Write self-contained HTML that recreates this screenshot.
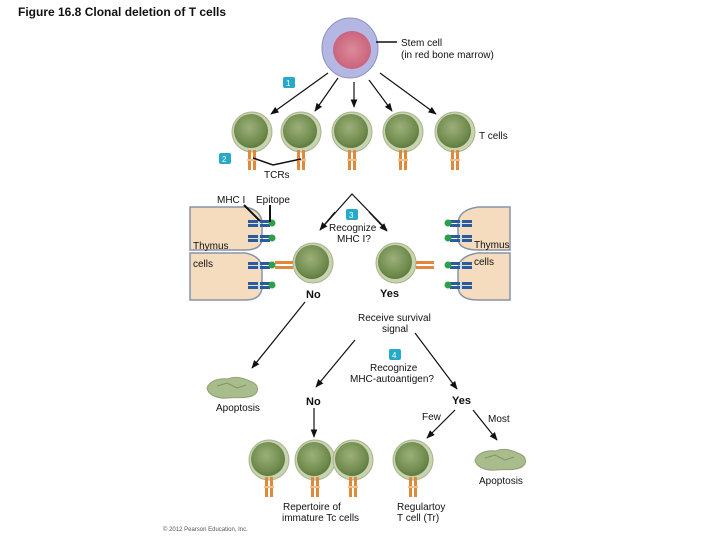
<!DOCTYPE html>
<html><head><meta charset="utf-8"><style>
html,body{margin:0;padding:0;background:#fff}
svg{display:block}
text{font-family:"Liberation Sans",sans-serif;font-size:10px;fill:#111}
</style></head><body>
<svg width="720" height="540" viewBox="0 0 720 540" xmlns="http://www.w3.org/2000/svg">
<defs>
<radialGradient id="cg" cx="0.45" cy="0.4" r="0.6">
<stop offset="0" stop-color="#9cb07a"/><stop offset="0.8" stop-color="#6f8a4c"/><stop offset="1" stop-color="#5f7a40"/></radialGradient>
<radialGradient id="sg" cx="0.5" cy="0.5" r="0.55">
<stop offset="0" stop-color="#dc8a98"/><stop offset="1" stop-color="#c8607a"/></radialGradient>
<marker id="ar" viewBox="0 0 10 10" refX="9" refY="5" markerWidth="7" markerHeight="7" orient="auto"><path d="M0,1 L10,5 L0,9 z" fill="#111"/></marker>
<g id="cell"><circle r="20" fill="#c8d4b0" stroke="#a6b48c" stroke-width="1"/><circle cx="-1" cy="-1" r="17" fill="url(#cg)"/></g>
<g id="tcr"><rect x="-4" y="0" width="3" height="20" fill="#e0893a"/><rect x="1" y="0" width="3" height="20" fill="#e0893a"/><rect x="-5" y="9" width="10" height="2" fill="#f3c08a"/></g>
<g id="mhc"><rect x="0" y="-3" width="22" height="3" fill="#2a5b9c"/><rect x="0" y="1" width="22" height="3" fill="#2a5b9c"/><rect x="10" y="-3" width="2" height="7" fill="#cde"/><circle cx="24" cy="0" r="3.5" fill="#2fa04a"/></g>
<g id="apo"><path d="M-25,0 C-22,-8 -12,-10 -4,-9 C4,-13 14,-9 20,-6 C27,-3 27,4 22,7 C14,11 4,9 -4,10 C-14,11 -24,7 -25,0z" fill="#a9bc8c" stroke="#8ea072" stroke-width="1"/><path d="M-15,-2 L-5,-5 L5,0 L14,-3" stroke="#7e9463" fill="none"/></g>
</defs>

<text x="18" y="16" style="font-size:12px;font-weight:bold">Figure 16.8 Clonal deletion of T cells</text>

<ellipse cx="350" cy="48" rx="28" ry="30" fill="#b3b7e2" stroke="#8b8fc4"/>
<circle cx="352" cy="50" r="19" fill="url(#sg)"/>
<line x1="376" y1="42" x2="397" y2="42" stroke="#111" stroke-width="1.5"/>
<text x="401" y="46">Stem cell</text>
<text x="401" y="58">(in red bone marrow)</text>

<rect x="283" y="77" width="12" height="11" rx="2" fill="#27a9c9"/><text x="286" y="86" style="fill:#fff;font-size:8px">1</text>
<g stroke="#111" stroke-width="1.2" marker-end="url(#ar)">
<line x1="328" y1="73" x2="271" y2="114"/><line x1="338" y1="78" x2="315" y2="111"/><line x1="354" y1="82" x2="354" y2="107"/><line x1="369" y1="80" x2="392" y2="111"/><line x1="380" y1="73" x2="436" y2="114"/></g>

<use href="#cell" x="252" y="132"/><use href="#cell" x="301" y="132"/><use href="#cell" x="352" y="132"/><use href="#cell" x="403" y="132"/><use href="#cell" x="455" y="132"/>
<use href="#tcr" x="252" y="150"/><use href="#tcr" x="301" y="150"/><use href="#tcr" x="352" y="150"/><use href="#tcr" x="403" y="150"/><use href="#tcr" x="455" y="150"/>
<text x="479" y="139">T cells</text>
<rect x="219" y="153" width="12" height="11" rx="2" fill="#27a9c9"/><text x="222" y="162" style="fill:#fff;font-size:8px">2</text>
<polyline points="253,158 273,165 301,159" fill="none" stroke="#111" stroke-width="1.5"/>
<text x="264" y="178">TCRs</text>

<path d="M190,207 L245,207 Q262,210 262,224 L262,238 Q262,250 245,250 L190,250z" fill="#f6dcbf" stroke="#8594aa" stroke-width="1.5"/>
<path d="M190,253 L245,253 Q262,256 262,270 L262,286 Q262,300 245,300 L190,300z" fill="#f6dcbf" stroke="#8594aa" stroke-width="1.5"/>
<path d="M510,207 L478,207 Q458,210 458,224 L458,238 Q458,250 478,250 L510,250z" fill="#f6dcbf" stroke="#8594aa" stroke-width="1.5"/>
<path d="M510,253 L478,253 Q458,256 458,270 L458,286 Q458,300 478,300 L510,300z" fill="#f6dcbf" stroke="#8594aa" stroke-width="1.5"/>
<use href="#mhc" x="248" y="223"/><use href="#mhc" x="248" y="238"/><use href="#mhc" x="248" y="265"/><use href="#mhc" x="248" y="285"/>
<use href="#mhc" transform="translate(472,223) scale(-1,1)"/><use href="#mhc" transform="translate(472,238) scale(-1,1)"/><use href="#mhc" transform="translate(472,265) scale(-1,1)"/><use href="#mhc" transform="translate(472,285) scale(-1,1)"/>
<text x="193" y="249">Thymus</text><text x="193" y="267">cells</text>
<text x="474" y="248">Thymus</text><text x="474" y="265">cells</text>
<line x1="244" y1="205" x2="260" y2="221" stroke="#111" stroke-width="2"/><line x1="270" y1="205" x2="270" y2="222" stroke="#111" stroke-width="2"/>
<text x="217" y="203">MHC I</text><text x="256" y="203">Epitope</text>

<use href="#cell" x="313" y="263"/><use href="#cell" x="396" y="263"/>
<g transform="translate(293,265) rotate(90)"><rect x="-4" y="0" width="3" height="18" fill="#e0893a"/><rect x="1" y="0" width="3" height="18" fill="#e0893a"/></g>
<g transform="translate(434,265) rotate(90)"><rect x="-4" y="0" width="3" height="18" fill="#e0893a"/><rect x="1" y="0" width="3" height="18" fill="#e0893a"/></g>

<polyline points="320,230 352,194 387,230" fill="none" stroke="#111" stroke-width="1.2"/>
<line x1="335" y1="212" x2="320" y2="230" stroke="#111" stroke-width="1.2" marker-end="url(#ar)"/>
<line x1="369" y1="212" x2="387" y2="231" stroke="#111" stroke-width="1.2" marker-end="url(#ar)"/>
<rect x="346" y="209" width="12" height="11" rx="2" fill="#27a9c9"/><text x="349" y="218" style="fill:#fff;font-size:8px">3</text>
<text x="329" y="231">Recognize</text><text x="337" y="242">MHC I?</text>
<text x="306" y="298" style="font-weight:bold;font-size:11px">No</text>
<text x="380" y="297" style="font-weight:bold;font-size:11px">Yes</text>

<line x1="305" y1="302" x2="252" y2="368" stroke="#111" stroke-width="1.2" marker-end="url(#ar)"/>
<use href="#apo" x="232" y="388"/>
<text x="216" y="411">Apoptosis</text>

<text x="358" y="321">Receive survival</text><text x="382" y="332">signal</text>
<rect x="389" y="349" width="12" height="11" rx="2" fill="#27a9c9"/><text x="392" y="358" style="fill:#fff;font-size:8px">4</text>
<text x="370" y="371">Recognize</text><text x="350" y="382">MHC-autoantigen?</text>
<line x1="355" y1="340" x2="316" y2="387" stroke="#111" stroke-width="1.2" marker-end="url(#ar)"/>
<line x1="415" y1="333" x2="457" y2="389" stroke="#111" stroke-width="1.2" marker-end="url(#ar)"/>
<text x="306" y="405" style="font-weight:bold;font-size:11px">No</text>
<text x="452" y="404" style="font-weight:bold;font-size:11px">Yes</text>
<line x1="314" y1="408" x2="314" y2="437" stroke="#111" stroke-width="1.2" marker-end="url(#ar)"/>
<line x1="455" y1="410" x2="427" y2="438" stroke="#111" stroke-width="1.2" marker-end="url(#ar)"/>
<line x1="473" y1="410" x2="497" y2="440" stroke="#111" stroke-width="1.2" marker-end="url(#ar)"/>
<text x="422" y="420">Few</text><text x="488" y="422">Most</text>

<use href="#cell" x="269" y="460"/><use href="#cell" x="315" y="460"/><use href="#cell" x="353" y="460"/><use href="#cell" x="413" y="460"/>
<use href="#tcr" x="269" y="477"/><use href="#tcr" x="315" y="477"/><use href="#tcr" x="353" y="477"/><use href="#tcr" x="413" y="477"/>
<use href="#apo" x="500" y="460"/>
<text x="479" y="484">Apoptosis</text>
<text x="283" y="510">Repertoire of</text><text x="282" y="521">immature Tc cells</text>
<text x="397" y="510">Regulartoy</text><text x="397" y="521">T cell (Tr)</text>
<text x="163" y="531" style="font-size:6px;fill:#555">© 2012 Pearson Education, Inc.</text>
</svg>
</body></html>
